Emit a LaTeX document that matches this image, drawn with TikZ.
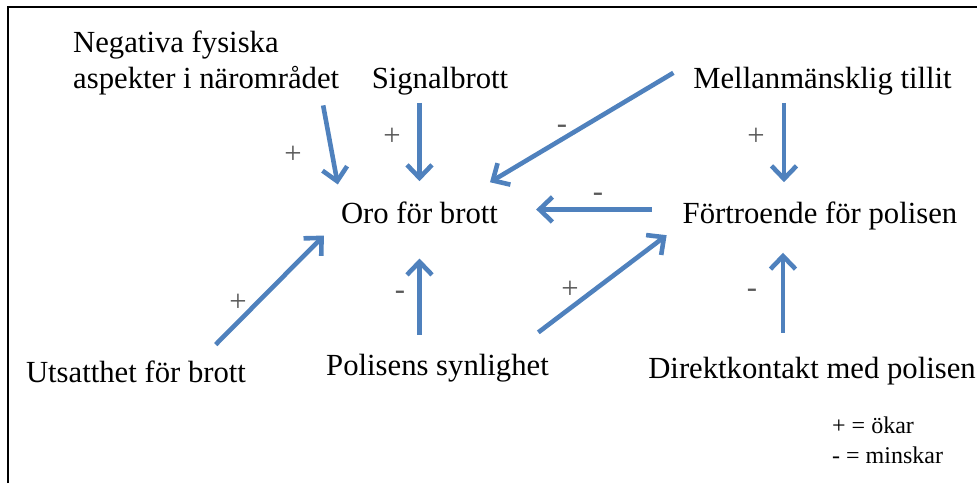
\documentclass[tikz,border=0pt]{standalone}
\usepackage{fontspec}
\setmainfont{Liberation Serif}
\usetikzlibrary{arrows.meta}
\definecolor{arrowblue}{RGB}{79,129,189}

\begin{document}
\begin{tikzpicture}[
    x=1pt, y=-1pt,
    factor/.style={inner sep=0pt, font=\fontsize{30.7}{36}\selectfont},
    sign/.style={inner sep=0pt, text=black!65, font=\fontsize{30.7}{36}\selectfont},
    legend/.style={anchor=base west, inner sep=0pt, font=\fontsize{24}{28}\selectfont},
    effect/.style={draw=arrowblue, line width=4.6pt, -{Straight Barb[length=13pt,width=25pt]}},
]
\useasboundingbox (0,0) rectangle (977,483);
\draw[line width=2pt] (8,483) -- (8,7) -- (977,7);

\node[factor, anchor=north west, align=left] (negativa) at (73,31) {Negativa fysiska\\aspekter i närområdet};
\node[factor, anchor=base] (signal)     at (440,88)    {Signalbrott};
\node[factor, anchor=base] (tillit)     at (822.5,88)  {Mellanmänsklig tillit};
\node[factor, anchor=base] (oro)        at (419.5,223) {Oro för brott};
\node[factor, anchor=base] (fortroende) at (820,223)   {Förtroende för polisen};
\node[factor, anchor=base] (utsatthet)  at (136,382)   {Utsatthet för brott};
\node[factor, anchor=base] (synlighet)  at (437.5,375) {Polisens synlighet};
\node[factor, anchor=base] (direkt)     at (812,378)   {Direktkontakt med polisen};

\coordinate (f) at ([yshift=6pt]fortroende.west);
\coordinate (t) at ([xshift=-38.5pt]tillit.south);
\coordinate (d) at ([xshift=-29pt]direkt.north);
\draw[effect, shorten <=10pt, shorten >=17pt] ([xshift=-18pt]negativa.south east) -- (oro.north west);
\draw[effect, shorten <=8pt, shorten >=20pt] (signal.south -| oro.north) -- (oro.north);
\draw[effect, shorten <=23pt, shorten >=37pt] ([yshift=19.6pt]tillit.west) -- ([xshift=38.7pt]oro.north);
\draw[effect, shorten <=31pt, shorten >=38pt] (f) -- (f -| oro.east);
\draw[effect, shorten <=8pt, shorten >=19pt] (t) -- (t |- fortroende.north);
\draw[effect, shorten <=22pt, shorten >=17pt] ([xshift=-46pt]utsatthet.north east) -- ([xshift=-5pt]oro.south west);
\draw[effect, shorten <=19pt, shorten >=35pt] (synlighet.north -| oro.south) -- (oro.south);
\draw[effect, shorten <=35pt, shorten >=9pt] ([xshift=-38.6pt]synlighet.north east) -- ([xshift=-8.7pt]fortroende.south west);
\draw[effect, shorten <=24pt, shorten >=23pt] (d) -- (d |- fortroende.south);

\node[sign] (plusneg)    at (293,155) {+};
\node[sign] (plussig)    at (392,137) {+};
\node[sign] (minustil)   at (562,129) {-};
\node[sign] (minusfor)   at (598,197) {-};
\node[sign] (plustil)    at (756,137) {+};
\node[sign] (plusuts)    at (238,303) {+};
\node[sign] (minussyn)   at (400,295) {-};
\node[sign] (plussyn)    at (570,290) {+};
\node[sign] (minusdir)   at (752,293) {-};

\node[legend] (okar)    at (832,433) {+ = ökar};
\node[legend] (minskar) at (832,463) {- = minskar};
\end{tikzpicture}
\end{document}
